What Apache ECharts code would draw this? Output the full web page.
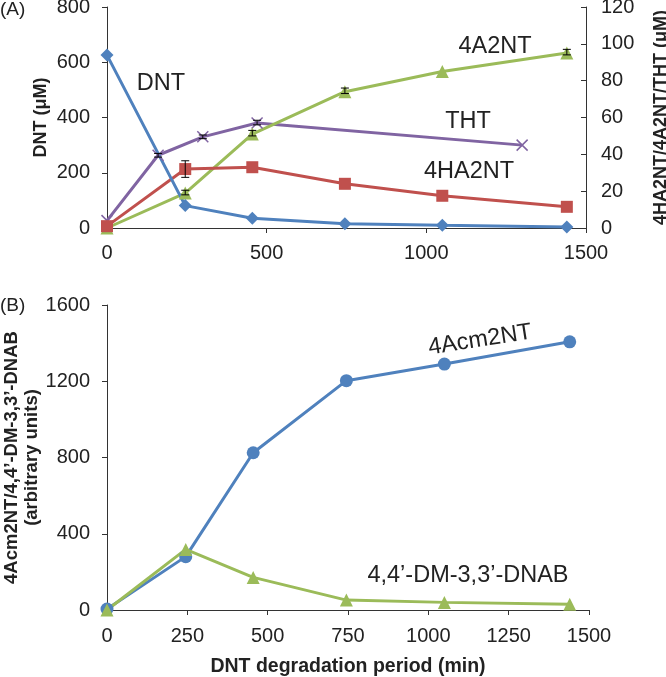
<!DOCTYPE html>
<html>
<head>
<meta charset="utf-8">
<script src="https://cdn.jsdelivr.net/npm/echarts@6/dist/echarts.min.js"></script>
<style>html,body{margin:0;padding:0;background:#fff;}#c{width:666px;height:677px;}</style>
</head>
<body>
<div id="c"></div>
<script>
// ---- Panel A data ----
var timesA = [0, 245, 455, 745, 1050, 1440];
var dnt = [626, 81, 35, 15, 10, 4];
var ha2nt = [1, 32, 33, 24, 17.5, 11.5];
var a2nt = [0, 19, 51, 74, 85, 95];
var timesTHT = [0, 160, 300, 470, 1300];
var tht = [4, 39.5, 49.5, 57, 45];
// error bars [time, low, high] on right axis
var errHA = [[245, 27.5, 36.5]];
var errA2 = [[245, 18, 20.5], [455, 50, 53], [745, 73, 76], [1440, 94, 97]];
var errTHT = [[160, 38.5, 40.5], [300, 48.5, 50.5], [470, 56, 58.5]];
// ---- Panel B data ----
var timesB = [0, 245, 455, 745, 1050, 1440];
var acm = [5, 280, 825, 1203, 1290, 1407];
var dnab = [0, 318, 171, 52, 40, 30];
// tick settings
var xTicksA = {min: 0, max: 1500, interval: 500};
var xTicksB = {min: 0, max: 1500, interval: 250};
var yLeftA = {min: 0, max: 800, interval: 200};
var yRightA = {min: 0, max: 120, interval: 20};
var yB = {min: 0, max: 1600, interval: 400};

var FONT = 'Liberation Sans, Arial, sans-serif';
var BLUE = '#4F81BD', RED = '#C0504D', GREEN = '#9BBB59', PURPLE = '#8064A2';
var AX = '#333';
var TICK_FS = 20;

function zip(xs, ys) { return xs.map(function (x, i) { return [x, ys[i]]; }); }
function plain(v) { return String(v); }

function lbl(margin) {
  return {fontFamily: FONT, fontSize: TICK_FS, color: '#222', margin: margin, formatter: plain};
}

function axisBase(extra) {
  var o = {
    type: 'value',
    splitLine: {show: false},
    axisLine: {show: true, lineStyle: {color: AX, width: 1}},
    axisTick: {show: true, length: 5, lineStyle: {color: AX}},
    axisLabel: lbl(10),
    nameMoveOverlap: false,
    nameTextStyle: {fontFamily: FONT, fontSize: 18, fontWeight: 'bold', color: '#222'}
  };
  for (var k in extra) o[k] = extra[k];
  return o;
}

function errSeries(data, xIdx, yIdx) {
  return {
    type: 'custom', xAxisIndex: xIdx, yAxisIndex: yIdx, z: 5,
    data: data,
    renderItem: function (params, api) {
      var x = api.value(0), lo = api.value(1), hi = api.value(2);
      var p1 = api.coord([x, lo]), p2 = api.coord([x, hi]);
      var w = 4;
      var st = {stroke: '#000', lineWidth: 1};
      return {type: 'group', children: [
        {type: 'line', shape: {x1: p1[0], y1: p1[1], x2: p2[0], y2: p2[1]}, style: st},
        {type: 'line', shape: {x1: p1[0] - w, y1: p1[1], x2: p1[0] + w, y2: p1[1]}, style: st},
        {type: 'line', shape: {x1: p2[0] - w, y1: p2[1], x2: p2[0] + w, y2: p2[1]}, style: st}
      ]};
    }
  };
}

function lineSeries(data, xIdx, yIdx, color, symbol, size, extraItem) {
  var it = {color: color};
  if (extraItem) for (var k in extraItem) it[k] = extraItem[k];
  return {
    type: 'line', xAxisIndex: xIdx, yAxisIndex: yIdx,
    data: data, symbol: symbol, symbolSize: size, showAllSymbol: true,
    lineStyle: {color: color, width: 3},
    itemStyle: it, z: 3, animation: false
  };
}

var LBL_FONT = '23.5px ' + FONT;
var chart = echarts.init(document.getElementById('c'), null, {renderer: 'canvas'});
chart.setOption({
  animation: false,
  backgroundColor: '#fff',
  grid: [
    {left: 107, right: 80, top: 7, height: 221, containLabel: false, outerBoundsMode: 'none'},
    {left: 107, right: 77, top: 305, height: 305, containLabel: false, outerBoundsMode: 'none'}
  ],
  xAxis: [
    axisBase({gridIndex: 0, min: xTicksA.min, max: xTicksA.max, interval: xTicksA.interval,
      axisLabel: lbl(15)}),
    axisBase({gridIndex: 1, min: xTicksB.min, max: xTicksB.max, interval: xTicksB.interval,
      axisLabel: lbl(16),
      name: 'DNT degradation period (min)', nameLocation: 'middle', nameGap: 47,
      nameTextStyle: {fontFamily: FONT, fontSize: 19.5, fontWeight: 'bold', color: '#222'}})
  ],
  yAxis: [
    axisBase({gridIndex: 0, min: yLeftA.min, max: yLeftA.max, interval: yLeftA.interval,
      name: 'DNT (\u03bcM)', nameLocation: 'middle', nameGap: 57,
      axisLabel: lbl(17)}),
    axisBase({gridIndex: 0, position: 'right', min: yRightA.min, max: yRightA.max, interval: yRightA.interval,
      name: '4HA2NT/4A2NT/THT (\u03bcM)', nameLocation: 'middle', nameGap: 66,
      axisTick: {show: true, inside: true, length: 5, lineStyle: {color: AX}},
      axisLabel: lbl(15)}),
    axisBase({gridIndex: 1, min: yB.min, max: yB.max, interval: yB.interval,
      name: '4Acm2NT/4,4\u2019-DM-3,3\u2019-DNAB\n(arbitrary units)', nameLocation: 'middle', nameGap: 65,
      nameTextStyle: {fontFamily: FONT, fontSize: 18.5, fontWeight: 'bold', color: '#222', lineHeight: 20},
      axisLabel: lbl(17)})
  ],
  graphic: [
    {type: 'text', left: 0, top: 0, style: {text: '(A)', font: '19px ' + FONT, fill: '#222'}},
    {type: 'text', left: 0, top: 296, style: {text: '(B)', font: '19px ' + FONT, fill: '#222'}},
    {type: 'text', x: 161, y: 84, style: {text: 'DNT', font: LBL_FONT, fill: '#222', align: 'center', verticalAlign: 'middle'}},
    {type: 'text', x: 495, y: 47, style: {text: '4A2NT', font: LBL_FONT, fill: '#222', align: 'center', verticalAlign: 'middle'}},
    {type: 'text', x: 468, y: 122, style: {text: 'THT', font: LBL_FONT, fill: '#222', align: 'center', verticalAlign: 'middle'}},
    {type: 'text', x: 469, y: 172, style: {text: '4HA2NT', font: LBL_FONT, fill: '#222', align: 'center', verticalAlign: 'middle'}},
    {type: 'text', x: 480, y: 340, rotation: 9 * Math.PI / 180, style: {text: '4Acm2NT', font: LBL_FONT, fill: '#222', align: 'center', verticalAlign: 'middle'}},
    {type: 'text', x: 468, y: 576, style: {text: '4,4\u2019-DM-3,3\u2019-DNAB', font: LBL_FONT, fill: '#222', align: 'center', verticalAlign: 'middle'}}
  ],
  series: [
    lineSeries(zip(timesTHT, tht), 0, 1, PURPLE, 'path://M0,0L10,10M10,0L0,10', 11, {borderColor: PURPLE, borderWidth: 1.5}),
    lineSeries(zip(timesA, a2nt), 0, 1, GREEN, 'triangle', 13),
    lineSeries(zip(timesA, ha2nt), 0, 1, RED, 'rect', 12),
    lineSeries(zip(timesA, dnt), 0, 0, BLUE, 'diamond', 13),
    errSeries(errHA, 0, 1),
    errSeries(errA2, 0, 1),
    errSeries(errTHT, 0, 1),
    lineSeries(zip(timesB, acm), 1, 2, BLUE, 'circle', 13),
    lineSeries(zip(timesB, dnab), 1, 2, GREEN, 'triangle', 13)
  ]
});
</script>
</body>
</html>
